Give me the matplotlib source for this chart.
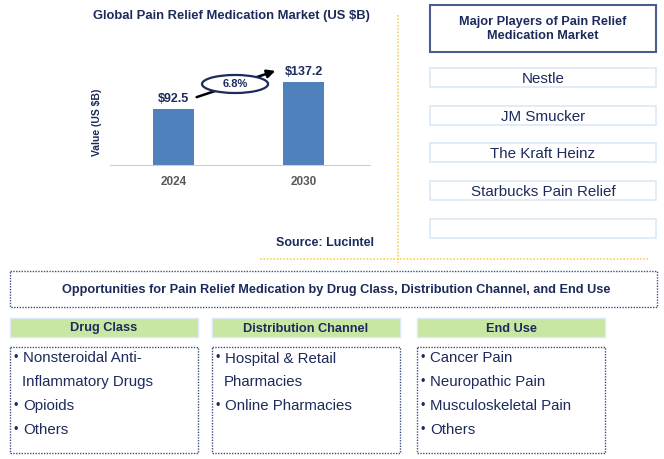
import numpy as np
import matplotlib.pyplot as plt
from matplotlib.patches import Rectangle, Ellipse

plt.rcParams['font.family'] = ['Liberation Sans', 'DejaVu Sans']

# data
years = ['2024', '2030']
market = [92.5, 137.2]
cagr = '6.8%'
players = ['Nestle', 'JM Smucker', 'The Kraft Heinz', 'Starbucks Pain Relief', '']
seg_titles = ['Drug Class', 'Distribution Channel', 'End Use']
seg_items = [
    ['Nonsteroidal Anti-\nInflammatory Drugs', 'Opioids', 'Others'],
    ['Hospital & Retail\nPharmacies', 'Online Pharmacies'],
    ['Cancer Pain', 'Neuropathic Pain', 'Musculoskeletal Pain', 'Others'],
]

navy = '#1c2a5c'
bar_col = '#4f81bd'
green = '#c9e6a3'
dot_col = '#3d4d85'
yellow = '#fcd25a'

W, H = 664, 459
fig = plt.figure(figsize=(W / 100, H / 100), dpi=100)
bg = fig.add_axes([0, 0, 1, 1])
bg.set_xlim(0, W)
bg.set_ylim(H, 0)
bg.axis('off')

#%% bar chart
ax = fig.add_axes([110 / W, (H - 165) / H, 260 / W, 125 / H])
x = np.arange(len(years))
ax.bar(x, market, width=0.315, color=bar_col)
ax.set_xlim(-0.488, 1.512)
ax.set_ylim(0, 125 / 0.605)
for s in ['top', 'right', 'left']:
    ax.spines[s].set_visible(False)
ax.spines['bottom'].set_color('#d0d0d0')
ax.set_yticks([])
ax.set_xticks(x)
ax.set_xticklabels(years, fontsize=8.5, fontweight='bold', color='#595959')
ax.tick_params(axis='x', length=0, pad=8)
for xi, v in zip(x, market):
    ax.annotate('${:.1f}'.format(v), (xi, v), xytext=(0, 3), textcoords='offset points',
                ha='center', va='bottom', fontsize=9, fontweight='bold', color=navy)
ax.annotate('', xy=(0.804, 157), xytext=(0.158, 110.7),
            arrowprops=dict(arrowstyle='-|>', color='black', lw=1.8, mutation_scale=12))
ax.add_patch(Ellipse((0.474, 133.9), 0.508, 29.8, facecolor='white', edgecolor=navy, lw=1.6, zorder=5))
ax.text(0.474, 133.9, cagr, ha='center', va='center', fontsize=8, fontweight='bold', color=navy, zorder=6)

bg.text(231, 16, 'Global Pain Relief Medication Market (US $B)', ha='center', va='center',
        fontsize=9.4, fontweight='bold', color=navy)
bg.text(97, 122, 'Value (US $B)', rotation=90, ha='center', va='center',
        fontsize=7.5, fontweight='bold', color=navy)
bg.text(276, 243, 'Source: Lucintel', ha='left', va='center', fontsize=9, fontweight='bold', color=navy)

# dividers
bg.plot([398, 398], [15, 263], color=yellow, lw=1.2, ls=(0, (1, 1)))
bg.plot([260, 648], [259, 259], color=yellow, lw=1.2, ls=(0, (1, 1)))

#%% players
bg.add_patch(Rectangle((430, 5), 226, 47, facecolor='white', edgecolor='#4a5c92', lw=1.5))
bg.text(543, 29, 'Major Players of Pain Relief\nMedication Market', ha='center', va='center',
        fontsize=9.2, fontweight='bold', color=navy, linespacing=1.25)
for i, p in enumerate(players):
    y0 = 68 + i * 37.7
    bg.add_patch(Rectangle((430, y0), 226, 19, facecolor='white', edgecolor='#dbe9f6', lw=1.2))
    bg.text(543, y0 + 11, p, ha='center', va='center', fontsize=10.9, color=navy)

#%% segments
bg.add_patch(Rectangle((10, 271), 647, 36, facecolor='none', edgecolor=dot_col, lw=1, ls=(0, (1, 1))))
bg.text(336, 290, 'Opportunities for Pain Relief Medication by Drug Class, Distribution Channel, and End Use',
        ha='center', va='center', fontsize=9.2, fontweight='bold', color=navy)
lefts = [10, 212, 417]
for lx, t, items in zip(lefts, seg_titles, seg_items):
    bg.add_patch(Rectangle((lx, 318), 188, 19, facecolor=green, edgecolor='#dbe9f6', lw=1))
    bg.text(lx + 94, 328.5, t, ha='center', va='center', fontsize=9.2, fontweight='bold', color=navy)
    bg.add_patch(Rectangle((lx, 347), 188, 106, facecolor='none', edgecolor=dot_col, lw=1, ls=(0, (1, 1))))
    line = 0
    for it in items:
        parts = it.split('\n')
        bg.text(lx + 5.5, 358.5 + line * 23.7, '\u2022', ha='center', va='center', fontsize=9, color=navy)
        for k, ptxt in enumerate(parts):
            bg.text(lx + (13 if k == 0 else 12), 358.5 + line * 23.7, ptxt, ha='left', va='center',
                    fontsize=10.8, color=navy)
            line += 1

fig.savefig('out.png', dpi=100)
